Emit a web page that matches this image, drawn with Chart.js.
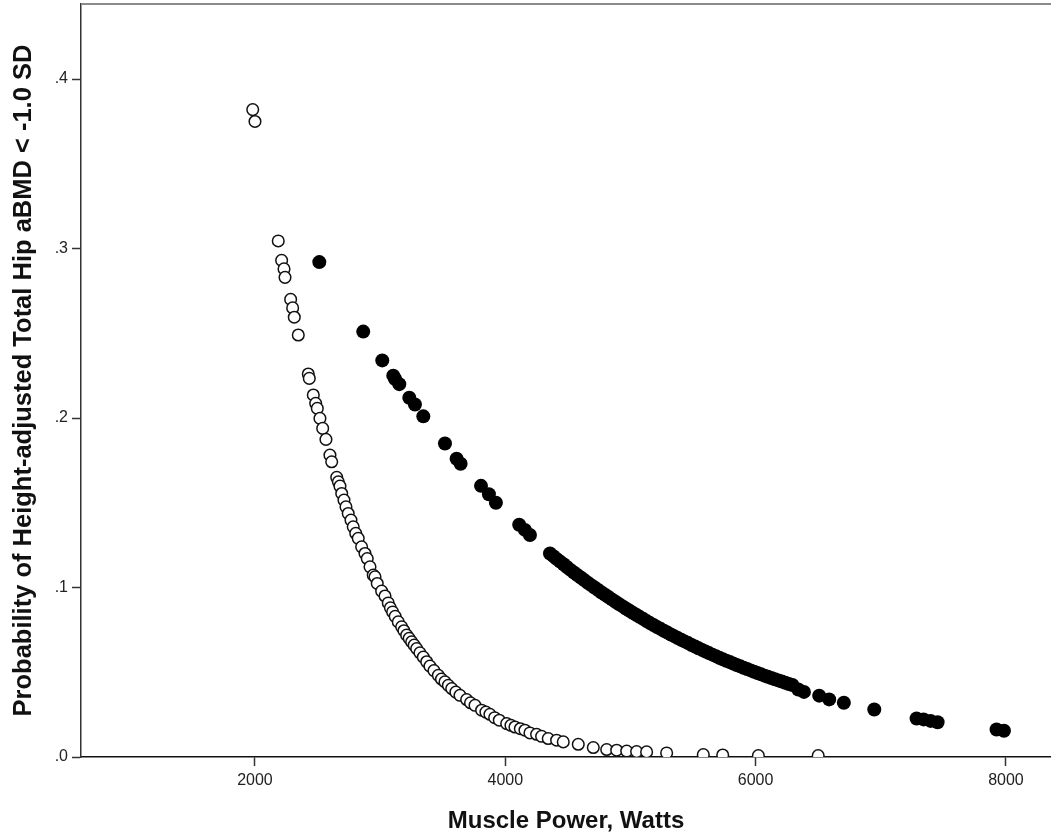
<!DOCTYPE html>
<html>
<head>
<meta charset="utf-8">
<script src="https://cdn.jsdelivr.net/npm/chart.js@4/dist/chart.umd.min.js"></script>
<style>
  body { margin: 0; background: #fff; }
  #wrap { width: 1051px; height: 839px; position: relative; }
</style>
</head>
<body>
<div id="wrap"><canvas id="chart"></canvas></div>
<script>
// open circles
const openPower = [1982, 2000, 2186, 2213, 2232, 2240, 2285, 2301, 2314, 2346,
    2426, 2434, 2466, 2485, 2498, 2519, 2541, 2567, 2599, 2613,
    2653, 2666, 2679, 2693, 2711, 2727, 2745, 2767, 2785, 2805,
    2825, 2852, 2879, 2897, 2919, 2945, 2959, 2977, 3012, 3039,
    3065, 3082, 3100, 3120, 3145, 3172, 3190, 3212, 3232, 3252,
    3272, 3292, 3318, 3345, 3372, 3398, 3430, 3465, 3490, 3518,
    3545, 3572, 3605, 3638, 3691, 3722, 3758, 3811, 3845, 3877,
    3915, 3952, 4011, 4045, 4077, 4120, 4157, 4197, 4250, 4290,
    4343, 4410, 4463, 4583, 4703, 4810, 4890, 4970, 5049, 5129,
    5289, 5582, 5737, 6022, 6500];
const openProb = [.382, .375, .3045, .293, .288, .283, .270, .265, .2595, .249,
    .226, .2234, .2136, .2087, .2057, .1998, .1939, .1874, .1781, .1742,
    .165, .1624, .1598, .1555, .1516, .1476, .1437, .1398, .1358, .132,
    .129, .124, .1201, .1171, .1122, .1073, .1063, .1024, .0979, .095,
    .0909, .088, .0856, .083, .0797, .0768, .0745, .0719, .070, .0679,
    .066, .064, .0615, .059, .0562, .0536, .051, .0482, .046, .0443,
    .0423, .0404, .0383, .0364, .0339, .032, .0305, .0276, .0265, .0252,
    .0232, .0217, .0197, .0187, .0177, .0167, .0158, .0142, .0134, .0122,
    .0109, .0099, .0089, .0075, .0056, .0044, .004, .0035, .0032, .003,
    .0024, .0014, .0012, .0008, .0008];

// filled dots
const filledPower = [2514, 2865, 3017, 3105, 3120, 3153, 3233, 3278, 3345, 3518,
    3611, 3643, 3806, 3869, 3925, 4111, 4157, 4197,
    4357, 4384, 4410, 4438, 4466, 4492, 4521, 4548, 4575, 4603,
    4630, 4659, 4686, 4713, 4742, 4769, 4797, 4824, 4852, 4880,
    4907, 4935, 4963, 4990, 5018, 5046, 5073, 5101, 5129, 5156,
    5184, 5212, 5240, 5267, 5295, 5323, 5350, 5378, 5406, 5433,
    5461, 5489, 5516, 5544, 5572, 5600, 5627, 5655, 5683, 5710,
    5738, 5766, 5794, 5821, 5849, 5877, 5904, 5932, 5960, 5988,
    6015, 6043, 6071, 6098, 6126, 6154, 6182, 6210, 6238, 6266,
    6294, 6341, 6386, 6508, 6588, 6705, 6948, 7286, 7342, 7398,
    7454, 7925, 7984];
const filledProb = [.292, .251, .234, .225, .223, .220, .212, .208, .201, .185,
    .176, .173, .160, .155, .150, .137, .134, .131,
    .1201, .1185, .1169, .1153, .1137, .1121, .1104, .1089, .1074, .1059,
    .1044, .1028, .1014, .1000, .0985, .0971, .0957, .0944, .0930, .0916,
    .0903, .0890, .0876, .0864, .0851, .0839, .0827, .0815, .0802, .0790,
    .0779, .0767, .0756, .0745, .0734, .0723, .0713, .0702, .0692, .0682,
    .0672, .0661, .0652, .0642, .0632, .0622, .0613, .0604, .0595, .0586,
    .0577, .0568, .0560, .0552, .0543, .0535, .0527, .0519, .0511, .0503,
    .0496, .0488, .0480, .0473, .0466, .0459, .0452, .0445, .0438, .0431,
    .0425, .0398, .0384, .0362, .0340, .0320, .0280, .0227, .0222, .0213,
    .0205, .0162, .0155];

const xTicks = [2000, 4000, 6000, 8000];
const yTicks = [0, 0.1, 0.2, 0.3, 0.4];
const yTickLabels = ['.0', '.1', '.2', '.3', '.4'];

const toPoints = (xs, ys) => xs.map((x, i) => ({ x: x, y: ys[i] }));

// grey frame line along the top of the plot
const topBorder = {
    id: 'topBorder',
    afterDraw(chart) {
        const { ctx, chartArea } = chart;
        ctx.save();
        ctx.strokeStyle = '#8a8a8a';
        ctx.lineWidth = 2;
        ctx.beginPath();
        ctx.moveTo(chartArea.left, chartArea.top);
        ctx.lineTo(chart.width, chartArea.top);
        ctx.stroke();
        ctx.restore();
    }
};

const ctx = document.getElementById('chart').getContext('2d');
new Chart(ctx, {
    type: 'scatter',
    data: {
        datasets: [{
            data: toPoints(openPower, openProb),
            pointRadius: 5.8,
            pointBorderWidth: 1.5,
            pointBorderColor: '#111',
            pointBackgroundColor: '#fff'
        }, {
            data: toPoints(filledPower, filledProb),
            pointRadius: 7,
            pointBorderWidth: 0,
            pointBackgroundColor: '#000'
        }]
    },
    options: {
        responsive: true,
        maintainAspectRatio: false,
        animation: false,
        layout: { padding: { top: 4, left: 0, right: 0, bottom: 0 }, autoPadding: false },
        plugins: { legend: { display: false }, tooltip: { enabled: false } },
        scales: {
            x: {
                type: 'linear',
                min: 610,
                max: 8360,
                afterBuildTicks: (scale) => { scale.ticks = xTicks.map(v => ({ value: v })); },
                afterFit: (scale) => { scale.height = 82; scale.paddingLeft = 0; scale.paddingRight = 0; },
                border: { display: true, color: '#111', width: 1.5 },
                grid: { drawOnChartArea: false, drawTicks: true, tickLength: 9, color: '#333', tickWidth: 1.5 },
                ticks: {
                    color: '#222', padding: 5, maxRotation: 0,
                    font: { family: 'Liberation Sans, Arial, sans-serif', size: 16 },
                    callback: (v) => String(v)
                },
                title: {
                    display: true,
                    text: 'Muscle Power, Watts',
                    color: '#111',
                    font: { family: 'Liberation Sans, Arial, sans-serif', size: 24, weight: 'bold' },
                    padding: { top: 0, bottom: 3 }
                }
            },
            y: {
                type: 'linear',
                min: 0,
                max: 0.4443,
                afterBuildTicks: (scale) => { scale.ticks = yTicks.map(v => ({ value: v })); },
                afterFit: (scale) => { scale.width = 81; scale.paddingTop = 0; scale.paddingBottom = 0; },
                border: { display: true, color: '#333', width: 1.5 },
                grid: { drawOnChartArea: false, drawTicks: true, tickLength: 9, color: '#333', tickWidth: 1.5 },
                ticks: {
                    color: '#222', padding: 4,
                    font: { family: 'Liberation Sans, Arial, sans-serif', size: 16 },
                    callback: (v) => yTickLabels[yTicks.indexOf(v)]
                },
                title: {
                    display: true,
                    text: 'Probability of Height-adjusted Total Hip aBMD < -1.0 SD',
                    color: '#111',
                    font: { family: 'Liberation Sans, Arial, sans-serif', size: 25.5, weight: 'bold' },
                    padding: { top: 9, bottom: 0 }
                }
            }
        }
    },
    plugins: [topBorder]
});
</script>
</body>
</html>
